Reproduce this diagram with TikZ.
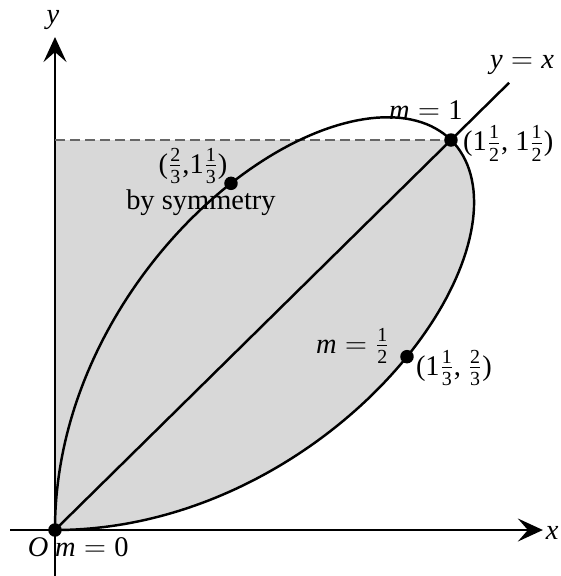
\documentclass[tikz,border=0pt]{standalone}
\usepackage{amsmath}
\usepackage{fontspec}
\setmainfont{Liberation Serif}
\usetikzlibrary{arrows.meta}
\begin{document}
\begin{tikzpicture}[x=5.28cm,y=5.2cm,
  lbl/.style={inner sep=0pt, font=\fontsize{16.2}{19}\selectfont},
  dotnode/.style={circle, fill=black, inner sep=0pt, minimum size=0.27cm},
  curve/.style={line width=1.4pt},
  axis/.style={line width=1.5pt, -{Stealth[length=0.5cm,width=0.46cm,inset=0.2cm]}},
  guide/.style={dash pattern=on 0.2cm off 0.1cm, draw=black!60, line width=0.9pt}]
\definecolor{regiongrey}{HTML}{D8D8D8}
\useasboundingbox (-0.2083,-0.1769) rectangle (1.9129,2.0385);
\fill[regiongrey] (0,0) -- (0,1.5) -- (1.5,1.5) -- plot[variable=\t, samples at={45,44.5,...,0}] ({3*sin(\t)*cos(\t)^2/(sin(\t)^3+cos(\t)^3)},{3*sin(\t)^2*cos(\t)/(sin(\t)^3+cos(\t)^3)}) -- cycle;
% axes
\coordinate (xs) at (-0.170,0);
\coordinate (xe) at (1.848,0);
\coordinate (ys) at (0,-0.177);
\coordinate (ye) at (0,1.896);
\draw[axis] (xs) -- (xe);
\draw[axis] (ys) -- (ye);
% points
\coordinate (Oc) at (0,0);
\coordinate (P1c) at (1.5,1.5);
\coordinate (yd) at (0,1.5);
\coordinate (le) at (1.72,1.72);
\draw[guide] (yd) -- (P1c);
\draw[curve] plot[variable=\t, domain=0:90, samples=181] ({3*sin(\t)*cos(\t)^2/(sin(\t)^3+cos(\t)^3)},{3*sin(\t)^2*cos(\t)/(sin(\t)^3+cos(\t)^3)});
\draw[curve] (Oc) -- (le);
\node[dotnode] (O) at (0,0) {};
\node[dotnode] (P1) at (1.5,1.5) {};
\node[dotnode] (P2) at (4/3,2/3) {};
\node[dotnode] (P3) at (2/3,4/3) {};
% labels
\node[lbl] (ylab) at (-0.008,1.962) {\textit{y}};
\node[lbl] (xlab) at (1.883,-0.012) {\textit{x}};
\node[lbl] (yx) at (1.769,1.788) {$\textit{y} = \textit{x}$};
\node[lbl] (m1) at (1.405,1.615) {$\textit{m} = \textrm{1}$};
\node[lbl, anchor=west] (c1) at (1.545,1.487) {($\textrm{1}\frac{\textrm{1}}{\textrm{2}}$, $\textrm{1}\frac{\textrm{1}}{\textrm{2}}$)};
\node[lbl] (c3) at (0.523,1.400) {($\frac{\textrm{2}}{\textrm{3}}$,$\textrm{1}\frac{\textrm{1}}{\textrm{3}}$)};
\node[lbl] (sym) at (0.553,1.258) {by symmetry};
\node[lbl] (mh) at (1.128,0.708) {$\textit{m} = \frac{\textrm{1}}{\textrm{2}}$};
\node[lbl] (c2) at (1.511,0.623) {($\textrm{1}\frac{\textrm{1}}{\textrm{3}}$, $\frac{\textrm{2}}{\textrm{3}}$)};
\node[lbl] (olab) at (-0.064,-0.065) {\textit{O}};
\node[lbl] (m0) at (0.140,-0.065) {$\textit{m} = \textrm{0}$};
\end{tikzpicture}
\end{document}
